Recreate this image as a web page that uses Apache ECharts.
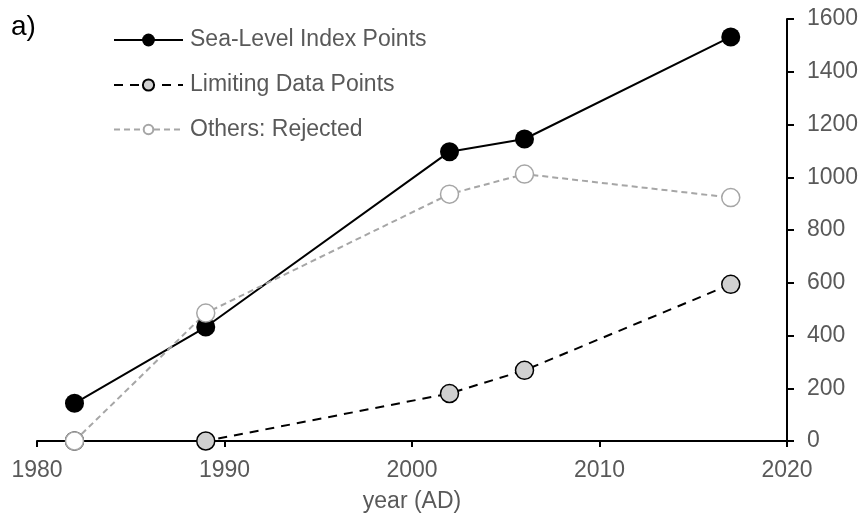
<!DOCTYPE html>
<html>
<head>
<meta charset="utf-8">
<script src="https://cdn.jsdelivr.net/npm/echarts@6/dist/echarts.min.js"></script>
<style>html,body{margin:0;padding:0;background:#fff}#c{width:864px;height:523px}</style>
</head>
<body>
<div id="c"></div>
<script>
const years = [1982, 1989, 2002, 2006, 2017];
const seaLevelIndex = [143, 432, 1097, 1145, 1532];
const limitingData = [0, 0, 180, 268, 594];
const othersRejected = [0, 485, 936, 1012, 923];
const seriesNames = ['Sea-Level Index Points', 'Limiting Data Points', 'Others: Rejected'];

const pair = (xs, ys) => xs.map((x, i) => [x, ys[i]]);
const FONT = '"Liberation Sans", Arial, sans-serif';
const TXT = '#595959';

const chart = echarts.init(document.getElementById('c'), null, {renderer: 'canvas'});
const legendBase = {
  orient: 'vertical', left: 113, itemWidth: 69, padding: 0,
  textStyle: {color: TXT, fontSize: 23, fontFamily: FONT, padding: [0, 0, 0, 2]},
  selectedMode: false
};
chart.setOption({
  animation: false,
  backgroundColor: '#fff',
  title: {text: 'a)', left: 11, top: 13, padding: 0, textStyle: {fontSize: 28, fontWeight: 'normal', color: '#000', fontFamily: FONT}},
  legend: [
    Object.assign({}, legendBase, {top: 28.5, itemHeight: 16, data: [seriesNames[0]]}),
    Object.assign({}, legendBase, {top: 73.5, itemHeight: 14, data: [seriesNames[1]]}),
    Object.assign({}, legendBase, {top: 118, itemHeight: 12, data: [seriesNames[2]]})
  ],
  grid: {left: 37, right: 77, top: 19, bottom: 82, outerBoundsMode: 'none', containLabel: false},
  xAxis: {
    type: 'value', min: 1980, max: 2020, interval: 10,
    name: 'year (AD)', nameLocation: 'middle', nameGap: 49,
    nameTextStyle: {color: TXT, fontSize: 23, fontFamily: FONT},
    axisLine: {lineStyle: {color: '#000', width: 2}},
    axisTick: {show: true, length: 6, lineStyle: {color: '#000', width: 2}},
    axisLabel: {color: TXT, fontSize: 23, fontFamily: FONT, margin: 18, formatter: v => String(v)},
    splitLine: {show: false}
  },
  yAxis: {
    type: 'value', position: 'right', min: 0, max: 1600, interval: 200,
    axisLine: {show: true, lineStyle: {color: '#000', width: 2}},
    axisTick: {show: true, length: 7, lineStyle: {color: '#000', width: 2}},
    axisLabel: {color: TXT, fontSize: 23, fontFamily: FONT, margin: 20, formatter: v => String(v)},
    splitLine: {show: false}
  },
  series: [
    {
      name: seriesNames[0], type: 'line', data: pair(years, seaLevelIndex),
      symbol: 'circle', symbolSize: 19,
      lineStyle: {color: '#000', width: 2},
      itemStyle: {color: '#000'}
    },
    {
      name: seriesNames[1], type: 'line', data: pair(years, limitingData),
      symbol: 'circle', symbolSize: 18,
      lineStyle: {color: '#000', width: 2, type: [9, 7]},
      itemStyle: {color: '#d0d0d0', borderColor: '#000', borderWidth: 1.5}
    },
    {
      name: seriesNames[2], type: 'line', data: pair(years, othersRejected),
      symbol: 'circle', symbolSize: 18,
      lineStyle: {color: '#a6a6a6', width: 2, type: [6, 4]},
      itemStyle: {color: '#fff', borderColor: '#a6a6a6', borderWidth: 1.5}
    }
  ]
});
</script>
</body>
</html>
